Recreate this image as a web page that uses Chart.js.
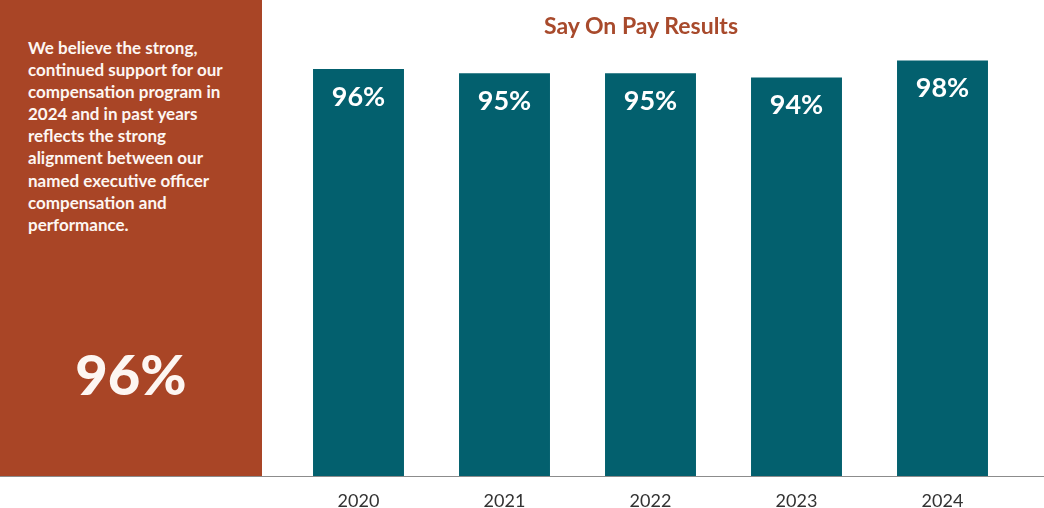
<!DOCTYPE html>
<html>
<head>
<meta charset="utf-8">
<script src="https://cdn.jsdelivr.net/npm/chart.js@4"></script>
<style>
  html, body { margin: 0; padding: 0; background: #fff; }
  #wrap { position: relative; width: 1044px; height: 508px; overflow: hidden; font-family: 'Lato', sans-serif; }
  #panel { position: absolute; left: 0; top: 0; width: 262px; height: 476px; background: #a94526; color: #fdf6f2; }
  #blurb { position: absolute; left: 28px; top: 37px; font-size: 17px; font-weight: 700; line-height: 22.1px; }
  #big { position: absolute; left: 0; width: 262px; top: 341px; text-align: center; font-size: 56px; font-weight: 900; line-height: 66px; }
  #title { position: absolute; left: 441px; width: 400px; top: 11px; text-align: center; color: #a84a2c; font-size: 23px; font-weight: 700; }
  #baseline { position: absolute; left: 0; top: 476px; width: 1044px; height: 1px; background: #8c8c8c; }
  #chart { position: absolute; left: 0; top: 0; }
</style>
</head>
<body>
<div id="wrap">
  <canvas id="chart" width="1044" height="508"></canvas>
  <div id="panel">
    <div id="blurb">We believe the strong,<br>continued support for our<br>compensation program in<br>2024 and in past years<br>reflects the strong<br>alignment between our<br>named executive officer<br>compensation and<br>performance.</div>
    <div id="big">96%</div>
  </div>
  <div id="baseline"></div>
  <div id="title">Say On Pay Results</div>
</div>
<script>
const years = ['2020', '2021', '2022', '2023', '2024'];
const approval = [96, 95, 95, 94, 98];

// white % labels inside each bar, near the top
const barLabels = {
  id: 'barLabels',
  afterDatasetsDraw(chart) {
    const ctx = chart.ctx;
    const meta = chart.getDatasetMeta(0);
    ctx.save();
    ctx.fillStyle = '#ffffff';
    ctx.font = '700 27px Lato';
    ctx.textAlign = 'center';
    ctx.textBaseline = 'middle';
    meta.data.forEach((bar, i) => {
      ctx.fillText(approval[i] + '%', bar.x, bar.y + 28);
    });
    ctx.restore();
  }
};

const ctx = document.getElementById('chart').getContext('2d');
new Chart(ctx, {
  type: 'bar',
  data: {
    labels: years,
    datasets: [{
      data: approval,
      backgroundColor: '#03606e',
      borderWidth: 0,
      barPercentage: 1,
      categoryPercentage: 0.623
    }]
  },
  options: {
    responsive: false,
    animation: false,
    layout: { padding: { left: 285.5, right: 28.5, top: 0, bottom: 0 } },
    plugins: { legend: { display: false }, tooltip: { enabled: false } },
    scales: {
      x: {
        grid: { display: false },
        border: { display: false },
        ticks: { color: '#333', font: { family: 'Lato', size: 18 }, padding: 6 },
        afterFit(scale) { scale.height = 32; }
      },
      y: {
        display: false,
        min: 0,
        max: 112.3
      }
    }
  },
  plugins: [barLabels]
});
</script>
</body>
</html>
